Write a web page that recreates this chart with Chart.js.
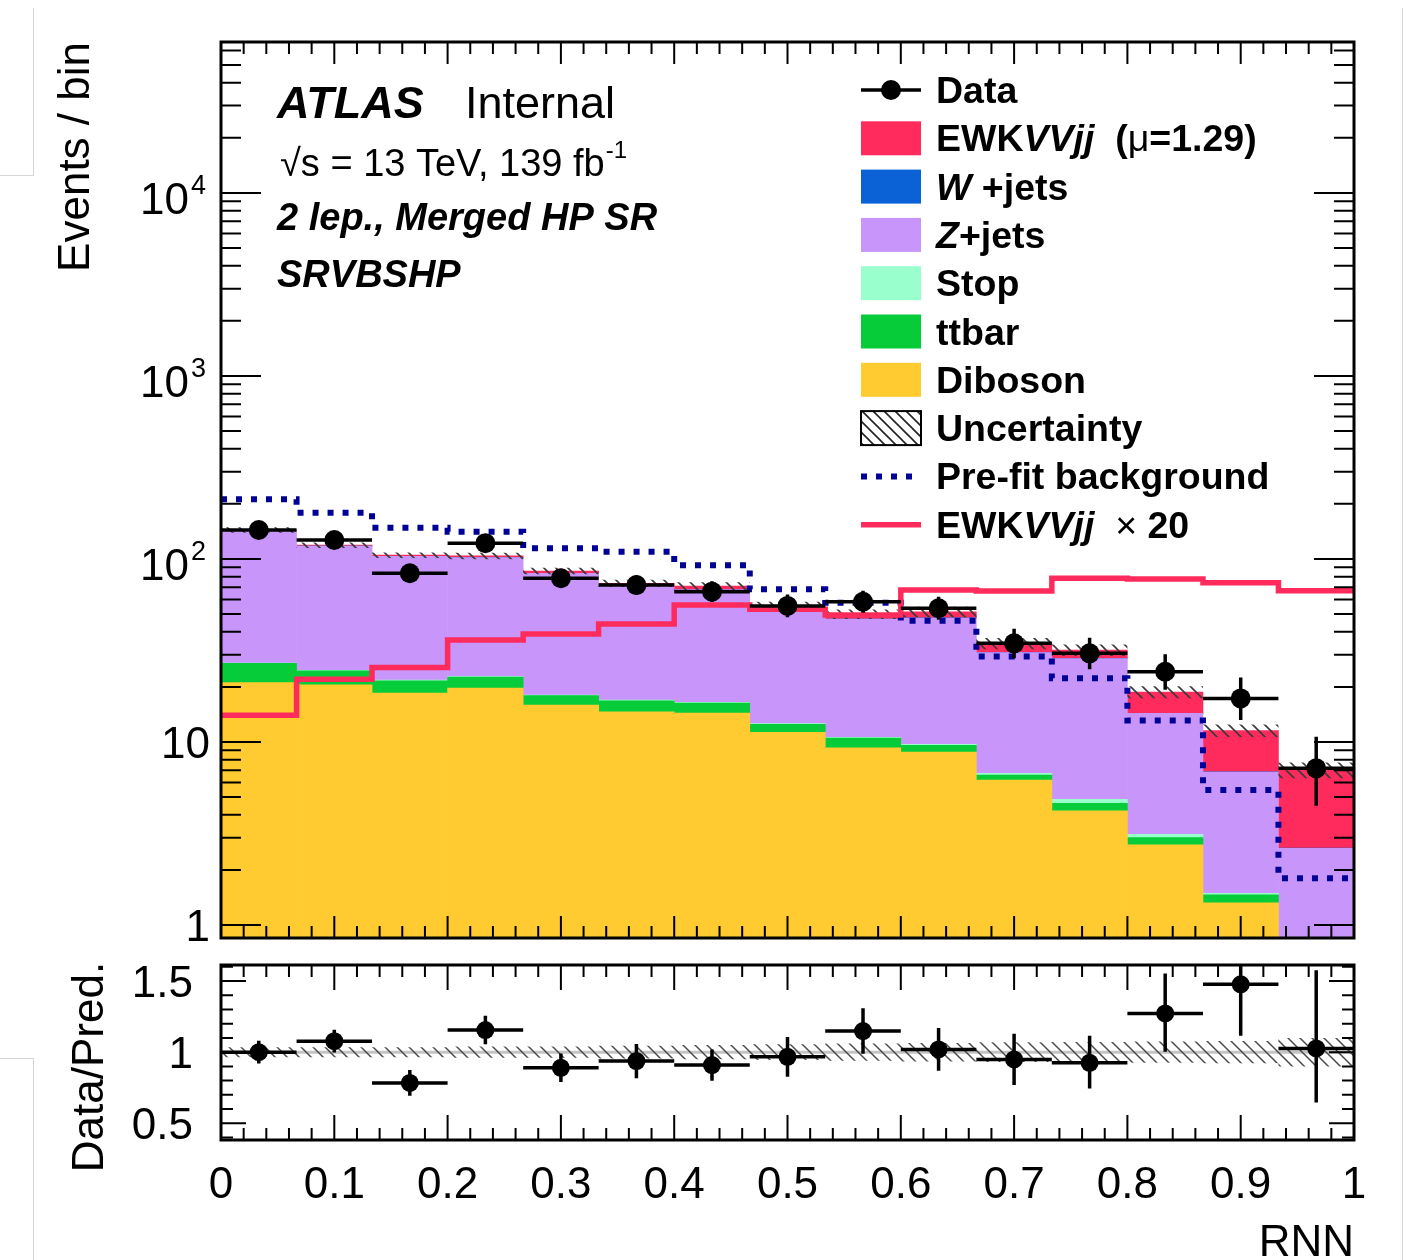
<!DOCTYPE html>
<html>
<head>
<meta charset="utf-8">
<title>RNN SRVBSHP</title>
<script src="https://cdn.jsdelivr.net/npm/chart.js@4.4.1/dist/chart.umd.min.js"></script>
<style>
  html, body { margin: 0; padding: 0; background: #fff; }
  body { width: 1409px; height: 1260px; position: relative; overflow: hidden; }
  .pane { position: absolute; left: 0; }
  #mainPane { top: 0; }
  #ratioPane { top: 950px; }
  .slide { position: absolute; background: #d6d6d6; }
</style>
</head>
<body>
<div class="slide" style="left:33px; top:8px; width:1px; height:167px;"></div>
<div class="slide" style="left:0; top:175px; width:34px; height:1px;"></div>
<div class="slide" style="left:0; top:1058px; width:34px; height:1px;"></div>
<div class="slide" style="left:33px; top:1058px; width:1px; height:202px;"></div>
<div class="slide" style="left:1402px; top:8px; width:1px; height:1252px;"></div>
<div class="pane" id="mainPane"><canvas id="mainChart" width="1409" height="950"></canvas></div>
<div class="pane" id="ratioPane"><canvas id="ratioChart" width="1409" height="310"></canvas></div>
<script>
// ===== data =====
const binEdges = [0, 0.0667, 0.1333, 0.2, 0.2667, 0.3333, 0.4, 0.4667, 0.5333, 0.6, 0.6667, 0.7333, 0.8, 0.8667, 0.9333, 1];

const dataVals  = [144, 127, 83.5, 122, 78.5, 72, 66.3, 55.4, 58.4, 53.8, 34.6, 30.5, 24.2, 17.3, 7.18];
const dataErrUp = [12.5, 11.8, 10.2, 11.6, 9.9, 9.5, 9.2, 8.5, 8.7, 8.4, 6.9, 6.6, 6.0, 5.2, 3.5];
const dataErrDn = [12.0, 11.3, 9.1, 11.0, 8.9, 8.5, 8.1, 7.4, 7.6, 7.3, 5.9, 5.5, 4.9, 4.1, 2.7];

const diboson  = [21.1, 20.5, 18.5, 19.7, 15.9, 14.6, 14.4, 11.3, 9.3, 8.8, 6.2, 4.2, 2.74, 1.32, 0.4];
const ttbar    = [5.8, 4.0, 3.1, 2.9, 2.0, 2.2, 1.9, 1.2, 1.2, 0.8, 0.4, 0.42, 0.26, 0.14, 0.02];
const stopVals = [0.1, 0.1, 0.2, 0.2, 0.15, 0.15, 0.15, 0.1, 0.1, 0.1, 0.15, 0.24, 0.13, 0.03, 0.01];
const zjets    = [116.0, 93.0, 81.5, 78.9, 65.5, 54.0, 51.3, 39.5, 36.3, 37.9, 24.0, 23.7, 11.2, 5.36, 2.19];
const wjets    = [0.01, 0.01, 0.01, 0.01, 0.01, 0.01, 0.01, 0.01, 0.01, 0.01, 0.01, 0.01, 0.01, 0.01, 0.01];
const ewkFit   = [0.9, 1.3, 1.6, 2.2, 2.4, 2.7, 3.4, 3.2, 3.0, 3.8, 3.8, 3.2, 4.4, 4.7, 4.4];

// relative size of the hatched uncertainty band
const uncRel = [0.035, 0.035, 0.035, 0.04, 0.04, 0.045, 0.05, 0.055, 0.06, 0.065, 0.07, 0.072, 0.075, 0.078, 0.1];

const prefitBkg  = [212, 179, 148, 141, 114.4, 109.6, 92.4, 68.3, 57.7, 46.0, 29.3, 22.3, 13.1, 5.47, 1.80];
const ewkTimes20 = [14.0, 22.0, 25.5, 36.1, 38.9, 44.1, 56.1, 53.1, 49.4, 67.7, 66.9, 78.5, 77.6, 74.2, 67.1];

const ratioVals  = [1.0, 1.077, 0.784, 1.155, 0.89, 0.937, 0.909, 0.967, 1.148, 1.019, 0.949, 0.925, 1.272, 1.476, 1.026];
const ratioErrUp = [0.08, 0.08, 0.09, 0.1, 0.1, 0.12, 0.11, 0.14, 0.16, 0.15, 0.18, 0.19, 0.28, 0.40, 0.55];
const ratioErrDn = [0.08, 0.08, 0.09, 0.1, 0.1, 0.12, 0.11, 0.14, 0.16, 0.15, 0.18, 0.18, 0.27, 0.36, 0.38];

const xTickValues = [0, 0.1, 0.2, 0.3, 0.4, 0.5, 0.6, 0.7, 0.8, 0.9, 1];
const xTickLabels = ['0', '0.1', '0.2', '0.3', '0.4', '0.5', '0.6', '0.7', '0.8', '0.9', '1'];
const mainYTicks  = [1, 10, 100, 1000, 10000];
const ratioYTicks = [0.5, 1, 1.5];
const ratioYLabels = ['0.5', '1', '1.5'];

// ===== style =====
const FONT = '"Liberation Sans", Arial, Helvetica, sans-serif';
const font = (style, size) => `${style} ${size}px ${FONT}`;
const cEWK = '#ff2b5c', cW = '#0a62d6', cZ = '#c896fb', cStop = '#99ffcc', cTT = '#05cc38', cDB = '#ffcb30', cPre = '#000096';

const centers = binEdges.slice(0, -1).map((e, i) => (e + binEdges[i + 1]) / 2);
const mcTotal = diboson.map((v, i) => v + ttbar[i] + stopVals[i] + zjets[i] + wjets[i] + ewkFit[i]);
const uncUp = mcTotal.map((t, i) => t * (1 + uncRel[i]));
const uncDn = mcTotal.map((t, i) => t * (1 - uncRel[i]));

function stepPoints(vals) {
  const pts = vals.map((v, i) => ({ x: binEdges[i], y: v }));
  pts.push({ x: binEdges[vals.length], y: vals[vals.length - 1] });
  return pts;
}
function atCenters(vals) {
  return vals.map((v, i) => ({ x: centers[i], y: v }));
}

function makeHatch(size, color, width) {
  const c = document.createElement('canvas');
  c.width = size; c.height = size;
  const g = c.getContext('2d');
  g.strokeStyle = color; g.lineWidth = width;
  g.beginPath();
  g.moveTo(-2, -2); g.lineTo(size + 2, size + 2);
  g.moveTo(-2, size - 2); g.lineTo(2, size + 2);
  g.moveTo(size - 2, -2); g.lineTo(size + 2, 2);
  g.stroke();
  return g.createPattern(c, 'repeat');
}

// frame + inward ticks, ROOT style
function drawFrame(chart, cfg) {
  const { ctx, chartArea: a, scales: { x, y } } = chart;
  ctx.save();
  ctx.strokeStyle = '#000';
  ctx.lineWidth = 2;
  ctx.beginPath();
  for (let k = 0; k <= 50; k++) {
    const px = x.getPixelForValue(k / 50);
    const len = k % 5 === 0 ? cfg.xMajor : cfg.xMinor;
    ctx.moveTo(px, a.bottom); ctx.lineTo(px, a.bottom - len);
    ctx.moveTo(px, a.top); ctx.lineTo(px, a.top + len);
  }
  cfg.yTicks.forEach(t => {
    const py = y.getPixelForValue(t.v);
    if (py < a.top || py > a.bottom) return;
    const len = t.major ? cfg.yMajor : cfg.yMinor;
    ctx.moveTo(a.left, py); ctx.lineTo(a.left + len, py);
    ctx.moveTo(a.right, py); ctx.lineTo(a.right - len, py);
  });
  ctx.stroke();
  ctx.lineWidth = 3;
  ctx.strokeRect(a.left, a.top, a.right - a.left, a.bottom - a.top);
  ctx.restore();
}

function drawErrors(chart, vals, up, dn) {
  const { ctx, chartArea: a, scales: { x, y } } = chart;
  ctx.save();
  ctx.beginPath();
  ctx.rect(a.left, a.top, a.right - a.left, a.bottom - a.top);
  ctx.clip();
  ctx.strokeStyle = '#000';
  ctx.lineWidth = 3.5;
  ctx.beginPath();
  vals.forEach((v, i) => {
    const cy = y.getPixelForValue(v);
    ctx.moveTo(x.getPixelForValue(binEdges[i]), cy);
    ctx.lineTo(x.getPixelForValue(binEdges[i + 1]), cy);
    const cx = x.getPixelForValue(centers[i]);
    ctx.moveTo(cx, y.getPixelForValue(v + up[i]));
    ctx.lineTo(cx, y.getPixelForValue(v - dn[i]));
  });
  ctx.stroke();
  ctx.restore();
}

function richText(ctx, x, y, parts) {
  let cx = x;
  parts.forEach(p => {
    ctx.font = p[0];
    ctx.fillText(p[1], cx, y);
    cx += ctx.measureText(p[1]).width;
  });
}

// ===== main panel =====
const hatchMain = makeHatch(12, '#3a3a3a', 1.6);
const hatchRatio = makeHatch(12, '#4a4a4a', 1.5);

const mainYTickList = [];
mainYTicks.forEach(d => {
  mainYTickList.push({ v: d, major: true });
  for (let m = 2; m <= 9; m++) mainYTickList.push({ v: d * m, major: false });
});

const mainPlugin = {
  id: 'atlasMain',
  afterDatasetsDraw(chart) {
    drawErrors(chart, dataVals, dataErrUp, dataErrDn);
  },
  afterDraw(chart) {
    const { ctx, scales: { y } } = chart;
    drawFrame(chart, { xMajor: 22, xMinor: 12, yMajor: 40, yMinor: 20, yTicks: mainYTickList });

    ctx.save();
    ctx.fillStyle = '#000';
    ctx.textBaseline = 'alphabetic';
    // y labels
    mainYTicks.forEach(v => {
      const py = y.getPixelForValue(v);
      const ex = Math.round(Math.log10(v));
      if (ex < 2) {
        ctx.font = font('', 44); ctx.textAlign = 'right';
        ctx.fillText(ex === 0 ? '1' : '10', 210, py + 16);
      } else {
        ctx.font = font('', 44); ctx.textAlign = 'right';
        ctx.fillText('10', 189, py + 21);
        ctx.font = font('', 27); ctx.textAlign = 'left';
        ctx.fillText(String(ex), 191, py + 1);
      }
    });

    // y title
    ctx.save();
    ctx.translate(89, 42);
    ctx.rotate(-Math.PI / 2);
    ctx.textAlign = 'right';
    ctx.font = font('', 44);
    ctx.fillText('Events / bin', 0, 0);
    ctx.restore();

    // label block
    ctx.textAlign = 'left';
    ctx.font = font('italic bold', 45); ctx.fillText('ATLAS', 277, 118);
    ctx.font = font('', 45); ctx.fillText('Internal', 465, 118);
    ctx.font = font('', 38);
    const lumi = '\u221As = 13 TeV, 139 fb';
    ctx.fillText(lumi, 280, 176);
    const lw = ctx.measureText(lumi).width;
    ctx.font = font('', 24); ctx.fillText('-1', 280 + lw + 1, 158);
    ctx.font = font('italic bold', 38);
    ctx.fillText('2 lep., Merged HP SR', 277, 230);
    ctx.fillText('SRVBSHP', 277, 287);

    // legend
    const B = font('bold', 37.5), BI = font('italic bold', 37.5), N = font('', 37.5);
    const rows = [
      { kind: 'data', parts: [[B, 'Data']] },
      { kind: 'box', color: cEWK, parts: [[B, 'EWK'], [BI, 'VVjj'], [B, '  ('], [N, '\u03BC'], [B, '=1.29)']] },
      { kind: 'box', color: cW, parts: [[BI, 'W'], [B, ' +jets']] },
      { kind: 'box', color: cZ, parts: [[BI, 'Z'], [B, '+jets']] },
      { kind: 'box', color: cStop, parts: [[B, 'Stop']] },
      { kind: 'box', color: cTT, parts: [[B, 'ttbar']] },
      { kind: 'box', color: cDB, parts: [[B, 'Diboson']] },
      { kind: 'hatch', parts: [[B, 'Uncertainty']] },
      { kind: 'dots', parts: [[B, 'Pre-fit background']] },
      { kind: 'line', parts: [[B, 'EWK'], [BI, 'VVjj'], [N, '  \u00D7 '], [B, '20']] }
    ];
    rows.forEach((r, i) => {
      const cy = 90 + i * 48.3;
      const x0 = 861, x1 = 921;
      if (r.kind === 'data') {
        ctx.strokeStyle = '#000'; ctx.lineWidth = 3.5;
        ctx.beginPath(); ctx.moveTo(x0, cy); ctx.lineTo(x1, cy); ctx.stroke();
        ctx.beginPath(); ctx.arc((x0 + x1) / 2, cy, 10, 0, Math.PI * 2); ctx.fillStyle = '#000'; ctx.fill();
      } else if (r.kind === 'box') {
        ctx.fillStyle = r.color; ctx.fillRect(x0, cy - 17, x1 - x0, 34);
      } else if (r.kind === 'hatch') {
        ctx.fillStyle = '#fff'; ctx.fillRect(x0, cy - 17, x1 - x0, 34);
        ctx.fillStyle = makeHatch(11, '#222', 1.6); ctx.fillRect(x0, cy - 17, x1 - x0, 34);
        ctx.strokeStyle = '#000'; ctx.lineWidth = 2; ctx.strokeRect(x0, cy - 17, x1 - x0, 34);
      } else if (r.kind === 'dots') {
        ctx.save(); ctx.strokeStyle = cPre; ctx.lineWidth = 6; ctx.setLineDash([6, 9]);
        ctx.beginPath(); ctx.moveTo(x0, cy); ctx.lineTo(x1, cy); ctx.stroke(); ctx.restore();
      } else if (r.kind === 'line') {
        ctx.strokeStyle = cEWK; ctx.lineWidth = 5.5;
        ctx.beginPath(); ctx.moveTo(x0, cy); ctx.lineTo(x1, cy); ctx.stroke();
      }
      ctx.fillStyle = '#000';
      richText(ctx, 936, cy + 13, r.parts);
    });
    ctx.restore();
  }
};

const barDefaults = { categoryPercentage: 1, barPercentage: 1, borderWidth: 0, order: 10, stack: 'mc' };

new Chart(document.getElementById('mainChart'), {
  type: 'bar',
  data: {
    datasets: [
      { label: 'Data', type: 'line', data: atCenters(dataVals), showLine: false, pointRadius: 10,
        pointBackgroundColor: '#000', pointBorderWidth: 0, order: 0, stack: 'data' },
      { label: 'EWKVVjj x 20', type: 'line', data: stepPoints(ewkTimes20), stepped: 'before',
        borderColor: cEWK, borderWidth: 5.5, pointRadius: 0, fill: false, order: 1, stack: 'ewk20' },
      { label: 'Pre-fit background', type: 'line', data: stepPoints(prefitBkg), stepped: 'before',
        borderColor: cPre, borderWidth: 6, borderDash: [6, 9], pointRadius: 0, fill: false, order: 2, stack: 'prefit' },
      { label: 'Uncertainty', type: 'line', data: stepPoints(uncUp), stepped: 'before', borderWidth: 0,
        borderColor: 'rgba(0,0,0,0)', pointRadius: 0, fill: '+1', backgroundColor: hatchMain, order: 3, stack: 'uncUp' },
      { label: 'unc low', type: 'line', data: stepPoints(uncDn), stepped: 'before', borderWidth: 0,
        borderColor: 'rgba(0,0,0,0)', pointRadius: 0, fill: false, order: 3, stack: 'uncDn' },
      Object.assign({ label: 'Diboson', data: atCenters(diboson), backgroundColor: cDB }, barDefaults),
      Object.assign({ label: 'ttbar', data: atCenters(ttbar), backgroundColor: cTT }, barDefaults),
      Object.assign({ label: 'Stop', data: atCenters(stopVals), backgroundColor: cStop }, barDefaults),
      Object.assign({ label: 'Z+jets', data: atCenters(zjets), backgroundColor: cZ }, barDefaults),
      Object.assign({ label: 'W+jets', data: atCenters(wjets), backgroundColor: cW }, barDefaults),
      Object.assign({ label: 'EWKVVjj', data: atCenters(ewkFit), backgroundColor: cEWK }, barDefaults)
    ]
  },
  options: {
    responsive: false,
    devicePixelRatio: 1,
    animation: false,
    layout: { padding: { left: 221, right: 55, top: 42, bottom: 12 } },
    plugins: { legend: { display: false }, tooltip: { enabled: false } },
    scales: {
      x: { type: 'linear', min: 0, max: 1, offset: false, display: false },
      y: { type: 'logarithmic', min: 0.849, max: 66800, stacked: true, display: false }
    }
  },
  plugins: [mainPlugin]
});

// ===== ratio panel =====
const ratioYTickList = [];
for (let k = 4; k <= 16; k++) ratioYTickList.push({ v: k / 10, major: k % 5 === 0 });

const ratioPlugin = {
  id: 'atlasRatio',
  beforeDatasetsDraw(chart) {
    const { ctx, chartArea: a, scales: { y } } = chart;
    const py = y.getPixelForValue(1);
    ctx.save();
    ctx.strokeStyle = '#c4c4c4'; ctx.lineWidth = 3;
    ctx.beginPath(); ctx.moveTo(a.left, py); ctx.lineTo(a.right, py); ctx.stroke();
    ctx.restore();
  },
  afterDatasetsDraw(chart) {
    drawErrors(chart, ratioVals, ratioErrUp, ratioErrDn);
  },
  afterDraw(chart) {
    const { ctx, scales: { x, y } } = chart;
    drawFrame(chart, { xMajor: 25, xMinor: 12, yMajor: 25, yMinor: 12, yTicks: ratioYTickList });
    ctx.save();
    ctx.fillStyle = '#000';
    ctx.font = font('', 44);
    ctx.textBaseline = 'alphabetic';
    ctx.textAlign = 'right';
    ratioYTicks.forEach((v, i) => ctx.fillText(ratioYLabels[i], 193, y.getPixelForValue(v) + 16));
    ctx.textAlign = 'center';
    xTickValues.forEach((v, i) => ctx.fillText(xTickLabels[i], x.getPixelForValue(v), 248));
    ctx.textAlign = 'right';
    ctx.fillText('RNN', 1354, 306);
    ctx.save();
    ctx.translate(103, 117);
    ctx.rotate(-Math.PI / 2);
    ctx.textAlign = 'center';
    ctx.fillText('Data/Pred.', 0, 0);
    ctx.restore();
    ctx.restore();
  }
};

const bandHi = uncRel.map(r => 1 + r);
const bandLo = uncRel.map(r => 1 - r);

new Chart(document.getElementById('ratioChart'), {
  type: 'line',
  data: {
    datasets: [
      { label: 'Data/Pred.', data: atCenters(ratioVals), showLine: false, pointRadius: 9,
        pointBackgroundColor: '#000', pointBorderWidth: 0, order: 0 },
      { label: 'band hi', data: stepPoints(bandHi), stepped: 'before', borderWidth: 0,
        borderColor: 'rgba(0,0,0,0)', pointRadius: 0, fill: '+1', backgroundColor: hatchRatio, order: 2 },
      { label: 'band lo', data: stepPoints(bandLo), stepped: 'before', borderWidth: 0,
        borderColor: 'rgba(0,0,0,0)', pointRadius: 0, fill: false, order: 2 }
    ]
  },
  options: {
    responsive: false,
    devicePixelRatio: 1,
    animation: false,
    layout: { padding: { left: 221, right: 55, top: 15, bottom: 120 } },
    plugins: { legend: { display: false }, tooltip: { enabled: false } },
    scales: {
      x: { type: 'linear', min: 0, max: 1, display: false },
      y: { type: 'linear', min: 0.383, max: 1.612, display: false }
    }
  },
  plugins: [ratioPlugin]
});
</script>
</body>
</html>
